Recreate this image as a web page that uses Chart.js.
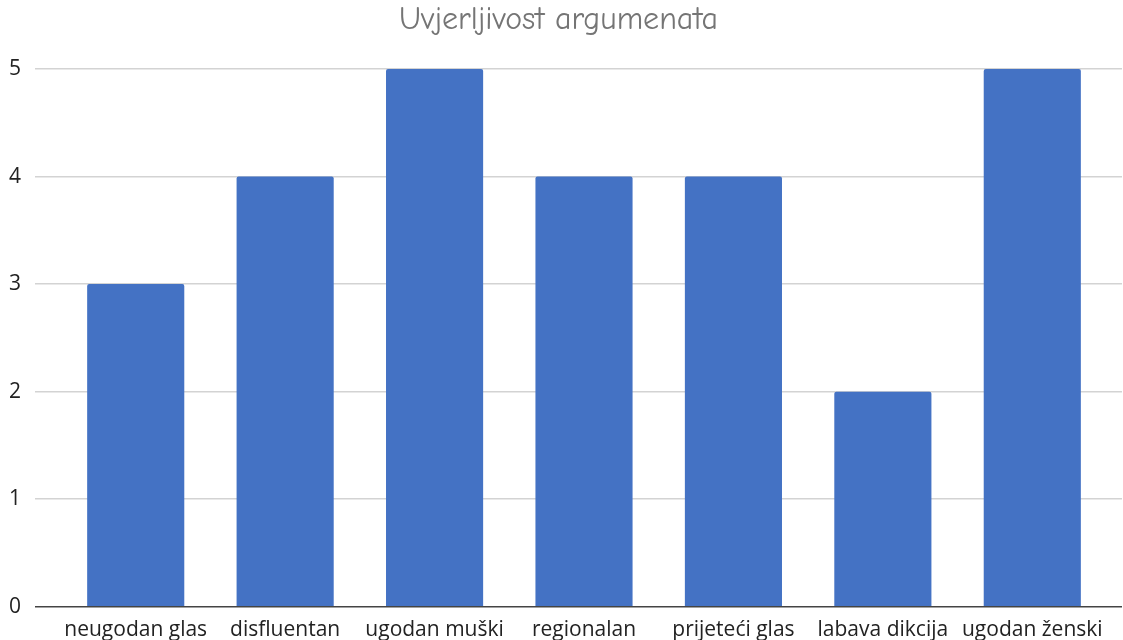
<!DOCTYPE html>
<html>
<head>
<meta charset="utf-8">
<script src="https://cdn.jsdelivr.net/npm/chart.js@4"></script>
<style>
    html, body { margin: 0; padding: 0; background: #fff; overflow: hidden; }
    #wrap { width: 1123px; height: 654px; position: relative; }
</style>
</head>
<body>
<div id="wrap"><canvas id="barChart"></canvas></div>
<script>
// Chart data
const categories = ['neugodan glas', 'disfluentan', 'ugodan muški', 'regionalan', 'prijeteći glas', 'labava dikcija', 'ugodan ženski'];
const scores = [3, 4, 5, 4, 4, 2, 5];
const yTicks = [0, 1, 2, 3, 4, 5];

const barColor = '#4472C4';
const gridColor = '#d3d3d3';
const axisColor = '#444';

const tickFont = { family: "'Open Sans', 'Noto Sans', sans-serif", size: 21 };

// zero line is the dark axis line, the rest are light gridlines
function lineColor(context) {
    return context.tick && context.tick.value === 0 ? axisColor : gridColor;
}

const barChart = new Chart(document.getElementById('barChart'), {
    type: 'bar',
    data: {
        labels: categories,
        datasets: [{
            label: 'Uvjerljivost argumenata',
            data: scores,
            backgroundColor: barColor,
            borderRadius: 2,
            borderSkipped: 'bottom',
            categoryPercentage: 1,
            barPercentage: 0.65
        }]
    },
    options: {
        responsive: true,
        maintainAspectRatio: false,
        animation: false,
        layout: {
            padding: { left: -5, right: 1, top: 0, bottom: 0 }
        },
        plugins: {
            legend: { display: false },
            tooltip: { enabled: false },
            title: {
                display: true,
                text: 'Uvjerljivost argumenata',
                color: '#757575',
                font: { family: "'Comic Sans MS', 'Comic Neue', cursive", size: 32, weight: 'normal' },
                padding: { top: 1, bottom: 29.6 }
            }
        },
        scales: {
            x: {
                grid: { display: false, drawTicks: false },
                border: { display: false },
                ticks: { color: '#222', font: tickFont, padding: 11, maxRotation: 0, autoSkip: false }
            },
            y: {
                min: 0,
                max: 5,
                afterBuildTicks: axis => { axis.ticks = yTicks.map(v => ({ value: v })); },
                grid: { color: lineColor, lineWidth: 1.5, tickLength: 26 },
                border: { display: false },
                ticks: { color: '#222', font: tickFont, padding: 14 }
            },
            // right side only extends the gridlines past the last bar
            yRight: {
                position: 'right',
                min: 0,
                max: 5,
                afterBuildTicks: axis => { axis.ticks = yTicks.map(v => ({ value: v })); },
                grid: { color: lineColor, lineWidth: 1.5, tickLength: 15, drawOnChartArea: false },
                border: { display: false },
                ticks: { display: false }
            }
        }
    }
});
</script>
</body>
</html>
